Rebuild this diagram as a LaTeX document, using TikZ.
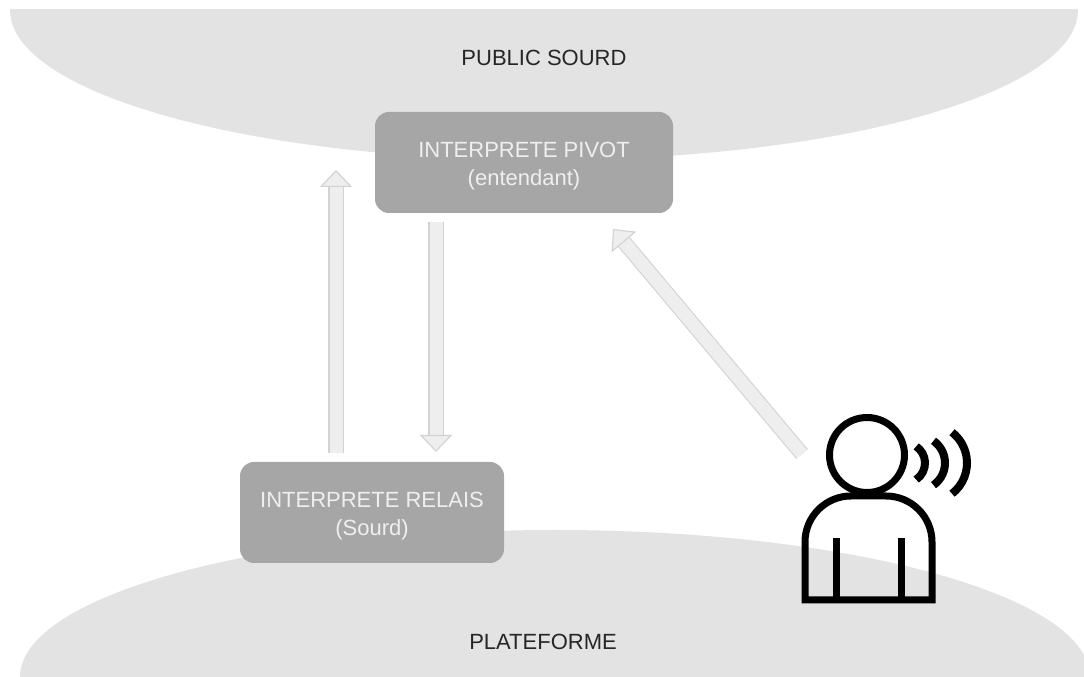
\documentclass[tikz,border=0pt]{standalone}
\usepackage{fontspec}
\setmainfont{Liberation Sans}
\usetikzlibrary{arrows.meta}
\definecolor{zonegray}{HTML}{E3E3E3}
\definecolor{boxgray}{HTML}{A6A6A6}
\definecolor{boxtext}{HTML}{EFEFEF}
\definecolor{arrowfill}{HTML}{EEEEEE}
\definecolor{arrowedge}{HTML}{D2D2D2}
\def\boxstrut{\rule{0pt}{23pt}}
\tikzset{
  interpreter/.style={fill=boxgray, text=boxtext, rounded corners=14pt, align=center, inner sep=0pt, font=\fontsize{22}{28}\selectfont},
  zonelabel/.style={text=black!85, inner sep=0pt, font=\fontsize{22}{28}\selectfont},
  fatarrow/.style={draw=arrowedge, line width=1.1pt, double=arrowfill, double distance=13pt,
    -{Triangle[open, fill=arrowfill, length=17pt, width=32pt, line width=1.1pt]}},
  personline/.style={line width=7pt, black}
}

\begin{document}
\begin{tikzpicture}[x=1pt, y=1pt]

    \useasboundingbox (0, 0) rectangle (1084, 677);

    \begin{scope}
      \clip (0, 0) rectangle (1084, 667);
      \fill[zonegray] (544, 667) ellipse (534 and 150);
      \fill[zonegray] (555, 0) ellipse (535 and 147);
    \end{scope}

    \node[zonelabel] (public) at (544, 619) {PUBLIC SOURD};
    \node[zonelabel] (plateforme) at (543, 35) {PLATEFORME};

    \node[interpreter, minimum width=298pt, minimum height=101pt] (pivot) at (524, 514.5) {\boxstrut INTERPRETE PIVOT\\(entendant)};
    \node[interpreter, minimum width=264pt, minimum height=101pt] (relais) at (372, 164.5) {\boxstrut INTERPRETE RELAIS\\(Sourd)};

    \coordinate (uptail) at (336, 224);
    \coordinate (uptip) at (336, 507);
    \coordinate (downtail) at (436, 455);
    \coordinate (downtip) at (436, 225);
    \coordinate (sidetail) at (802, 223);
    \coordinate (sidetip) at (613, 448);

    \draw[fatarrow] (uptail) -- (uptip);
    \draw[fatarrow] (downtail) -- (downtip);
    \draw[fatarrow] (sidetail) -- (sidetip);

    \draw[personline] (867, 222) circle (37.5);
    \draw[personline] (805, 77) -- (805, 135) arc[start angle=180, end angle=90, radius=46] -- (886, 181) arc[start angle=90, end angle=0, radius=46] -- (932, 77) -- cycle;
    \draw[personline] (836, 77) -- (836, 139);
    \draw[personline] (901, 77) -- (901, 139);

\foreach \r/\cx/\ang in {20/905/56, 27/918/55, 39/928/52} {
      \draw[personline, line width=8pt] (\cx, 214) ++(-\ang:\r) arc[start angle=-\ang, end angle=\ang, radius=\r];
}

\end{tikzpicture}
\end{document}
